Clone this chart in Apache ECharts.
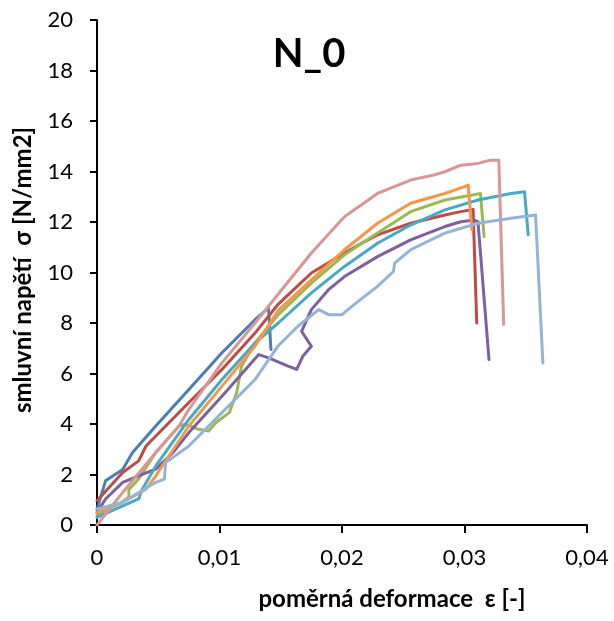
<!DOCTYPE html>
<html><head><meta charset="utf-8">
<script src="https://cdn.jsdelivr.net/npm/echarts@6/dist/echarts.min.js"></script>
<style>html,body{margin:0;padding:0;background:#fff}#c{width:614px;height:621px}</style>
</head><body><div id="c"></div>
<script>
var xTicks = [0, 0.01, 0.02, 0.03, 0.04];
var yTicks = [0, 2, 4, 6, 8, 10, 12, 14, 16, 18, 20];
var seriesNames = ['blue', 'red', 'green', 'purple', 'teal', 'orange', 'pink', 'lightblue'];

var blue = [[0,0.63],[0.0007,1.75],[0.0021,2.2],[0.0029,2.87],[0.0048,3.92],[0.0075,5.37],[0.0102,6.82],[0.0129,8.13],[0.0140,8.6],[0.0142,6.95]];
var red = [[0,0.96],[0.0021,2.08],[0.0034,2.54],[0.0040,3.13],[0.0075,4.85],[0.0102,6.16],[0.0129,7.6],[0.0148,8.75],[0.0175,9.98],[0.0202,10.77],[0.0216,11.16],[0.0229,11.49],[0.0256,11.95],[0.0284,12.28],[0.0297,12.41],[0.0307,12.5],[0.0310,8.0]];
var green = [[0,0.4],[0.002,0.9],[0.0026,1.1],[0.0026,1.4],[0.0034,1.82],[0.0048,2.87],[0.0067,3.92],[0.0072,3.99],[0.0083,3.79],[0.0091,3.72],[0.0097,4.05],[0.0108,4.45],[0.0114,5.24],[0.0118,6.29],[0.0129,7.21],[0.0148,8.33],[0.0175,9.58],[0.0202,10.7],[0.0229,11.56],[0.0256,12.41],[0.0284,12.87],[0.0313,13.13],[0.0316,11.42]];
var purple = [[0,0.5],[0.0007,1.03],[0.0021,1.69],[0.0034,1.95],[0.0048,2.21],[0.0062,2.87],[0.0075,3.66],[0.0102,5.1],[0.0132,6.75],[0.0140,6.62],[0.0156,6.29],[0.0163,6.16],[0.0168,6.68],[0.0175,7.08],[0.0167,7.67],[0.0175,8.53],[0.0189,9.32],[0.0202,9.84],[0.0229,10.63],[0.0256,11.29],[0.0284,11.82],[0.0297,12.01],[0.0308,12.08],[0.0311,12.01],[0.0320,6.55]];
var teal = [[0,0.3],[0.0021,0.76],[0.0034,1.03],[0.0037,1.42],[0.0048,2.34],[0.0075,4.18],[0.0102,5.76],[0.0129,7.21],[0.0148,8.0],[0.0175,9.19],[0.0202,10.24],[0.0229,11.16],[0.0256,11.88],[0.0284,12.48],[0.0311,12.87],[0.0338,13.13],[0.0349,13.2],[0.0352,11.49]];
var orange = [[0,0.5],[0.0021,0.9],[0.0040,1.42],[0.0048,1.95],[0.0075,3.92],[0.0102,5.5],[0.0129,7.08],[0.0148,8.5],[0.0175,9.71],[0.0202,10.9],[0.0229,11.95],[0.0256,12.74],[0.0284,13.13],[0.0300,13.4],[0.0303,13.46],[0.0306,11.7]];
var pink = [[0,0],[0.0021,1.29],[0.0048,2.87],[0.0067,3.92],[0.0075,4.58],[0.0102,6.42],[0.0129,8.0],[0.0148,9.15],[0.0175,10.77],[0.0202,12.21],[0.0229,13.13],[0.0256,13.66],[0.0275,13.86],[0.0284,13.99],[0.0297,14.25],[0.0311,14.32],[0.0321,14.45],[0.0328,14.45],[0.0332,7.94]];
var lightblue = [[0,0.63],[0.0021,0.9],[0.0048,1.69],[0.0055,1.82],[0.0056,2.47],[0.0075,3.13],[0.0102,4.45],[0.0129,5.76],[0.0148,7.1],[0.0164,7.87],[0.0181,8.53],[0.0189,8.33],[0.0200,8.33],[0.0208,8.66],[0.0229,9.45],[0.0242,10.04],[0.0243,10.37],[0.0256,10.9],[0.0284,11.56],[0.0311,11.95],[0.0338,12.15],[0.0358,12.28],[0.0364,6.42]];

var seriesData = [blue, red, green, purple, teal, orange, pink, lightblue];
var colors = ['#4a7ebb', '#be4b48', '#98b954', '#7d60a0', '#46aac5', '#f79646', '#d99694', '#95b3d7'];

var FONT = 'Lato';
var chart = echarts.init(document.getElementById('c'), null, {renderer: 'canvas'});
chart.setOption({
  animation: false,
  backgroundColor: '#fff',
  grid: {left: 97, right: 27, top: 20, bottom: 96, containLabel: false},
  xAxis: {
    type: 'value', min: xTicks[0], max: xTicks[xTicks.length - 1], interval: 0.01,
    axisLine: {lineStyle: {color: '#000', width: 2}},
    axisTick: {show: true, inside: false, length: 8, lineStyle: {color: '#000', width: 2}},
    splitLine: {show: false},
    axisLabel: {color: '#000', fontFamily: FONT, fontSize: 22, margin: 22,
      formatter: function (v) { return v === 0 ? '0' : v.toFixed(2).replace('.', ','); }}
  },
  yAxis: {
    type: 'value', min: yTicks[0], max: yTicks[yTicks.length - 1], interval: 2,
    axisLine: {show: true, lineStyle: {color: '#000', width: 2}},
    axisTick: {show: true, inside: false, length: 7, lineStyle: {color: '#000', width: 2}},
    splitLine: {show: false},
    axisLabel: {color: '#000', fontFamily: FONT, fontSize: 22, margin: 24}
  },
  graphic: [
    {type: 'text', x: 309, y: 54, style: {text: 'N_0', font: 'bold 40px ' + FONT, fill: '#000', align: 'center', verticalAlign: 'middle'}},
    {type: 'text', x: 392, y: 599, style: {text: 'poměrná deformace  ε [-]', font: 'bold 24px ' + FONT, fill: '#000', align: 'center', verticalAlign: 'middle'}},
    {type: 'text', x: 23, y: 270, rotation: Math.PI / 2, style: {text: 'smluvní napětí  σ [N/mm2]', font: 'bold 24px ' + FONT, fill: '#000', align: 'center', verticalAlign: 'middle'}}
  ],
  series: seriesData.map(function (d, i) {
    return {type: 'line', name: seriesNames[i], data: d, showSymbol: false, smooth: false,
      lineStyle: {color: colors[i], width: 3, cap: 'round', join: 'round'}, z: 2 + i};
  })
});
</script></body></html>
